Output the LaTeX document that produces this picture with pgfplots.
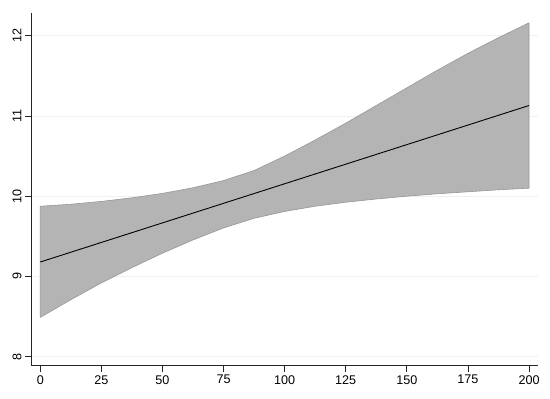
\documentclass[border=0pt]{standalone}
\usepackage{fontspec}
\setmainfont{Liberation Sans}
\usepackage{pgfplots}
\pgfplotsset{compat=1.18}
\definecolor{cifill}{RGB}{180,180,180}
\definecolor{ciedge}{RGB}{150,150,150}
\definecolor{gridc}{RGB}{234,242,243}
\begin{document}
\begin{tikzpicture}
\useasboundingbox (-31pt,-33.3pt) rectangle (519pt,365.7pt);
\begin{axis}[
  at={(0,0)}, anchor=south west,
  scale only axis,
  width=507.3pt, height=352.4pt,
  xmin=-3.8, xmax=203.8,
  ymin=7.888, ymax=12.279,
  axis x line*=bottom, axis y line*=left,
  axis line style={-, line width=0.8pt, black!85},
  xtick={0,25,...,200},
  ytick={8,9,10,11,12},
  tick align=outside,
  major tick length=6pt,
  tick style={line width=0.8pt, black!85},
  ymajorgrids,
  grid style={gridc, line width=0.8pt},
  tick label style={font=\fontsize{12.6}{14}\selectfont},
  yticklabel style={rotate=90, anchor=south},
  /pgf/number format/assume math mode=true,
  clip=false,
]
\addplot[fill=cifill, draw=ciedge, line width=0.6pt, line join=round] coordinates {
 (0,9.875) (12.5,9.90) (25,9.935) (37.5,9.98) (50,10.035) (62.5,10.105) (75,10.195)
 (87.5,10.32) (100,10.50) (112.5,10.70) (125,10.91) (137.5,11.13) (150,11.35)
 (162.5,11.57) (175,11.78) (187.5,11.975) (200,12.16)
 (200,10.10) (187.5,10.08) (175,10.055) (162.5,10.03) (150,10.00) (137.5,9.965)
 (125,9.925) (112.5,9.875) (100,9.81) (87.5,9.725) (75,9.605) (62.5,9.455)
 (50,9.29) (37.5,9.11) (25,8.92) (12.5,8.71) (0,8.49) (0,9.875)
};
\addplot[black, line width=0.9pt] coordinates {(0,9.18) (200,11.13)};
\end{axis}
\end{tikzpicture}
\end{document}
